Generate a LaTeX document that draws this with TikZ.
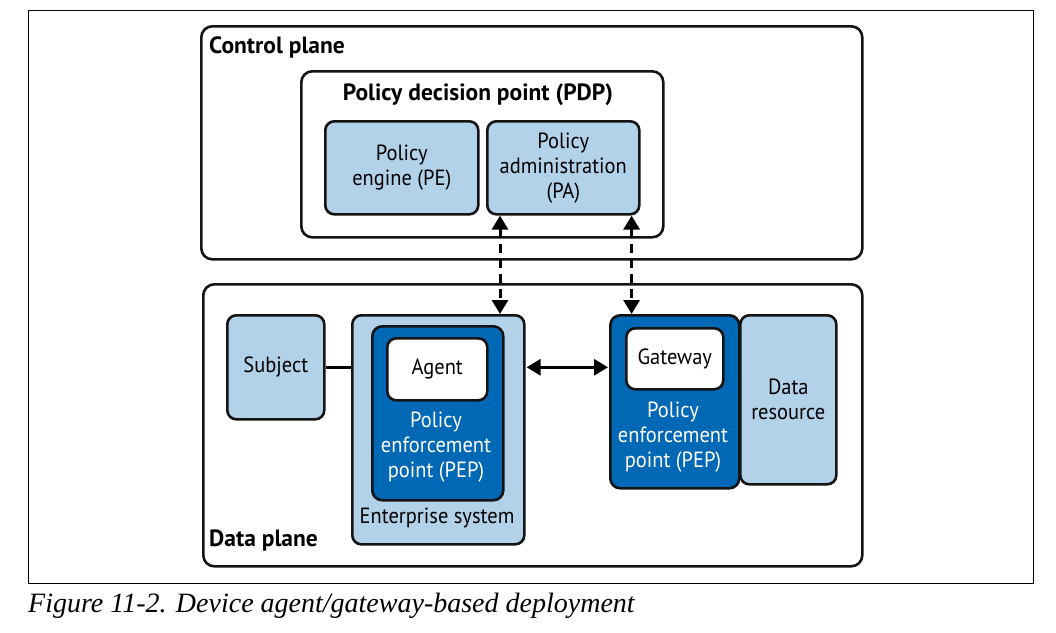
\documentclass[tikz,border=0pt]{standalone}
\usepackage{fontspec}
\setmainfont{PT Sans}[FakeStretch=0.93]
\newfontfamily\boldsans{PT Sans Bold}
\newfontfamily\capfont{Liberation Serif}
\usetikzlibrary{arrows.meta}
\definecolor{lblue}{RGB}{178,210,233}
\definecolor{dblue}{RGB}{0,104,181}
\definecolor{edge}{RGB}{20,20,20}
\tikzset{
  box/.style={draw=edge, line width=2.6pt, rounded corners=9pt, inner sep=0pt, align=center,
              font=\fontsize{22}{25}\selectfont},
  plane/.style={box, fill=white, rounded corners=11pt},
  lbox/.style={box, fill=lblue},
  dbox/.style={box, fill=dblue, rounded corners=10pt},
  wbox/.style={box, fill=white},
  txt/.style={inner sep=0pt, align=center, font=\fontsize{22}{25}\selectfont},
  wtxt/.style={txt, text=white},
  btxt/.style={inner sep=0pt, font=\boldsans\fontsize{23.5}{27}\selectfont},
  conn/.style={draw=black, line width=3pt},
  dtip/.style={{Triangle[length=14pt,width=16pt]}-{Triangle[length=14pt,width=16pt]}},
}
\begin{document}
\begin{tikzpicture}[x=1pt,y=-1pt]
\useasboundingbox (0,0) rectangle (1056,632);
\node[draw=black, line width=1pt, inner sep=0pt, minimum width=1005pt, minimum height=573pt, anchor=north west] (frame) at (28,10) {};
% control plane
\node[plane, minimum width=661pt, minimum height=233pt, anchor=north west] (cp) at (200,25) {};
\node[btxt, anchor=west] (cplabel) at (209,47) {Control plane};
\node[plane, minimum width=362pt, minimum height=166pt, anchor=north west] (pdp) at (300,70) {};
\node[btxt] (pdplabel) at (478,95) {Policy decision point (PDP)};
\node[lbox, minimum width=153pt, minimum height=93pt, anchor=north west] (pe) at (324,120) {Policy\\engine (PE)};
\node[lbox, minimum width=152pt, minimum height=93pt, anchor=north west] (pa) at (486,120) {Policy\\administration\\(PA)};
% data plane
\node[plane, minimum width=659pt, minimum height=282pt, anchor=north west] (dp) at (202,283) {};
\node[btxt, anchor=west] (dplabel) at (209,540) {Data plane};
\node[lbox, minimum width=97pt, minimum height=104pt, anchor=north west] (subj) at (226,314) {Subject};
\node[lbox, minimum width=172pt, minimum height=229pt, anchor=north west] (ent) at (351,314) {};
\node[txt] (entlabel) at (437,518) {Enterprise system};
\node[dbox, minimum width=131pt, minimum height=174pt, anchor=north west] (pep1) at (371,325) {};
\node[wbox, minimum width=100pt, minimum height=62pt, anchor=north west] (agent) at (386,337) {Agent};
\node[wtxt] (pep1label) at (436,447) {Policy\\enforcement\\point (PEP)};
\node[lbox, minimum width=96pt, minimum height=169pt, anchor=north west] (data) at (739,314) {Data\\resource};
\node[dbox, minimum width=129pt, minimum height=173pt, anchor=north west] (pep2) at (609,314) {};
\node[wbox, minimum width=97pt, minimum height=61pt, anchor=north west] (gw) at (625,327) {Gateway};
\node[wtxt] (pep2label) at (673,437) {Policy\\enforcement\\point (PEP)};
% connectors
\draw[conn] (subj.east) -- (ent.west |- subj.east);
\draw[conn, dtip] ([xshift=1pt]ent.east |- subj.east) -- ([xshift=-1pt]pep2.west |- subj.east);
\draw[conn, dtip, dash pattern=on 9pt off 6pt] ([xshift=14pt]pa.south west) -- ([xshift=14pt]pa.south west |- ent.north);
\draw[conn, dtip, dash pattern=on 9pt off 6pt] ([xshift=-9pt]pa.south east) -- ([xshift=-9pt]pa.south east |- pep2.north);
% caption
\node[inner sep=0pt, anchor=west, font=\capfont\itshape\fontsize{28}{32}\selectfont] (cap) at (28,606) {Figure 11-2. Device agent/gateway-based deployment};
\end{tikzpicture}
\end{document}
